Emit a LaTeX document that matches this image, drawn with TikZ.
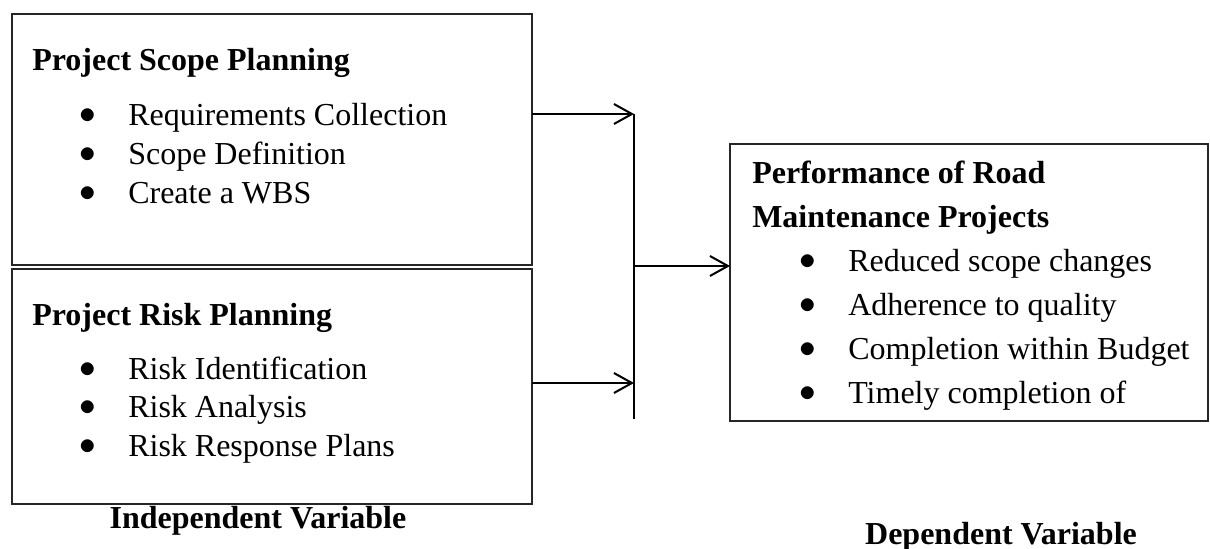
\documentclass[tikz,border=0pt]{standalone}
\usepackage{fontspec}
\setmainfont{Liberation Serif}
\usetikzlibrary{arrows.meta,positioning}

\newcommand{\bul}[1]{\makebox[36.75pt][l]{\raisebox{1.5pt}{$\bullet$}}#1}

\begin{document}
\begin{tikzpicture}[x=0.75pt, y=-0.75pt,
    box/.style={draw=black!85, line width=1.1pt, anchor=north west, inner sep=0pt, outer sep=0pt},
    txt/.style={anchor=base west, inner sep=0pt, font=\fontsize{24}{28.9}\selectfont},
    link/.style={line width=1.5pt, -{Straight Barb[length=13.5pt, width=15pt]}}]
    \useasboundingbox (0,0) rectangle (1210,549);

    % the three boxes
    \node (scope) [box, minimum width=390pt, minimum height=188.25pt] at (12,14) {};
    \node (risk) [box, minimum width=390pt, minimum height=176.25pt] at (12,269) {};
    \node (perf) [box, minimum width=358.5pt, minimum height=207.75pt] at (730,144) {};

    % independent variables
    \node (scopehead) [txt] at (32,71) {\textbf{Project Scope Planning}};
    \node (scopelist) [txt] at (79,126) {\begin{tabular}[t]{@{}l@{}}
        \bul{Requirements Collection}\\
        \bul{Scope Definition}\\
        \bul{Create a WBS}
    \end{tabular}};
    \node (riskhead) [txt] at (32,325) {\textbf{Project Risk Planning}};
    \node (risklist) [txt] at (79,379) {\begin{tabular}[t]{@{}l@{}}
        \bul{Risk Identification}\\
        \bul{Risk Analysis}\\
        \bul{Risk Response Plans}
    \end{tabular}};

    % dependent variable
    \node (perfhead) [txt, font=\fontsize{24}{33}\selectfont] at (752,184) {\begin{tabular}[t]{@{}l@{}}
        \textbf{Performance of Road}\\
        \textbf{Maintenance Projects}
    \end{tabular}};
    \node (perflist) [txt, font=\fontsize{24}{33}\selectfont] at (799,271.7) {\begin{tabular}[t]{@{}l@{}}
        \bul{Reduced scope changes}\\
        \bul{Adherence to quality}\\
        \bul{Completion within Budget}\\
        \bul{Timely completion of}
    \end{tabular}};

    \node (indep) [txt, anchor=base, font=\fontsize{24}{28.9}\selectfont\bfseries] at (258,528) {Independent Variable};
    \node (dep) [txt, anchor=base, font=\fontsize{24}{28.9}\selectfont\bfseries] at (1001,544) {Dependent Variable};

    % connectors
    \coordinate (jtop) at (634,114);
    \coordinate (jmid) at (634,266);
    \coordinate (jlow) at (634,383);
    \coordinate (jbot) at (634,419);
    \draw[line width=1.5pt] (jtop) -- (jbot);
    \draw[link] (scope.east |- jtop) -- (jtop);
    \draw[link] (risk.east |- jlow) -- (jlow);
    \draw[link] (jmid) -- (jmid -| perf.west);
\end{tikzpicture}
\end{document}
